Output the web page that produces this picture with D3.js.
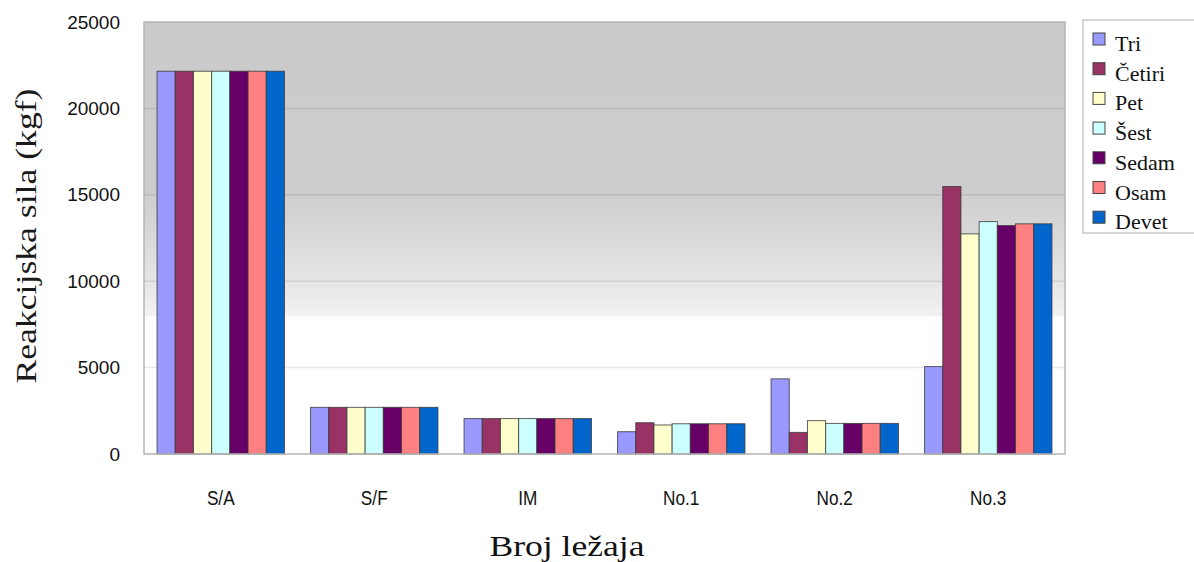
<!DOCTYPE html>
<html>
<head>
<meta charset="utf-8">
<script src="https://cdnjs.cloudflare.com/ajax/libs/d3/7.8.5/d3.min.js"></script>
<style>
  body { margin: 0; background: #fff; }
  svg { display: block; }
</style>
</head>
<body>
<svg id="chart" width="1194" height="562"></svg>
<script>
// Data
var categories = ["S/A", "S/F", "IM", "No.1", "No.2", "No.3"];
var seriesNames = ["Tri", "Četiri", "Pet", "Šest", "Sedam", "Osam", "Devet"];
var seriesColors = ["#9999ff", "#993366", "#ffffcc", "#ccffff", "#660066", "#ff8080", "#0066cc"];

// values[series][category]
var tri    = [22150, 2700, 2050, 1290, 4350, 5060];
var cetiri = [22150, 2700, 2050, 1810, 1250, 15480];
var pet    = [22150, 2700, 2050, 1680, 1930, 12740];
var sest   = [22150, 2700, 2050, 1750, 1770, 13450];
var sedam  = [22150, 2700, 2050, 1750, 1770, 13220];
var osam   = [22150, 2700, 2050, 1750, 1770, 13320];
var devet  = [22150, 2700, 2050, 1750, 1770, 13320];
var values = [tri, cetiri, pet, sest, sedam, osam, devet];

var yTicks = [0, 5000, 10000, 15000, 20000, 25000];

// Layout
var margin = {left: 144, top: 22};
var w = 921;
var h = 432;

var svg = d3.select("#chart");

// background gradient of the plot area
var defs = svg.append("defs");
var grad = defs.append("linearGradient")
    .attr("id", "bg")
    .attr("x1", 0).attr("y1", 0).attr("x2", 0).attr("y2", 1);
[[0, "#cacaca"], [0.39, "#cdcdcd"], [0.5, "#d9d9d9"], [0.6, "#e6e6e6"],
 [0.68, "#f3f1f3"], [0.683, "#ffffff"], [1, "#ffffff"]].forEach(function (s) {
    grad.append("stop").attr("offset", s[0]).attr("stop-color", s[1]);
});

var g = svg.append("g").attr("transform", "translate(" + margin.left + "," + margin.top + ")");

var x0 = d3.scaleBand()
    .domain(categories)
    .range([0, w])
    .paddingInner(0.17)
    .paddingOuter(0.085);

var x1 = d3.scaleBand()
    .domain(d3.range(seriesNames.length))
    .range([0, x0.bandwidth()]);

var y = d3.scaleLinear()
    .domain([0, 25000])
    .range([h, 0]);

// plot background
g.append("rect")
    .attr("width", w)
    .attr("height", h)
    .attr("fill", "url(#bg)");

// gridlines
g.selectAll(".grid")
    .data(yTicks.slice(1, -1))
    .enter()
    .append("line")
    .attr("x1", 0)
    .attr("x2", w)
    .attr("y1", function (d) { return y(d); })
    .attr("y2", function (d) { return y(d); })
    .attr("stroke", "#000")
    .attr("stroke-opacity", 0.09)
    .attr("stroke-width", 1.5);

// bars
var groups = g.selectAll(".cat")
    .data(categories)
    .enter()
    .append("g")
    .attr("transform", function (d) { return "translate(" + x0(d) + ",0)"; });

groups.selectAll("rect")
    .data(function (d, ci) {
        return values.map(function (s, si) { return {si: si, v: s[ci]}; });
    })
    .enter()
    .append("rect")
    .attr("x", function (d) { return x1(d.si); })
    .attr("y", function (d) { return y(d.v); })
    .attr("width", x1.bandwidth())
    .attr("height", function (d) { return h - y(d.v); })
    .attr("fill", function (d) { return seriesColors[d.si]; })
    .attr("stroke", "#3a3a3a")
    .attr("stroke-opacity", 0.8)
    .attr("stroke-width", 1);

// plot frame
g.append("rect")
    .attr("width", w)
    .attr("height", h)
    .attr("fill", "none")
    .attr("stroke", "#b5b5b5")
    .attr("stroke-width", 1.5);

// y axis labels
var yAxis = d3.axisLeft(y)
    .tickValues(yTicks)
    .tickSize(0)
    .tickPadding(24)
    .tickFormat(d3.format("d"));

var ya = g.append("g").call(yAxis);
ya.select(".domain").remove();
ya.selectAll("text")
    .attr("font-family", "Liberation Sans, Arial, sans-serif")
    .attr("font-size", 19)
    .attr("fill", "#111");

// x axis labels (tall, narrow look of the original)
var xAxis = d3.axisBottom(x0).tickSize(0).tickPadding(0);
var xa = g.append("g").attr("transform", "translate(0," + h + ")").call(xAxis);
xa.select(".domain").remove();
xa.selectAll("text")
    .attr("font-family", "Liberation Sans, Arial, sans-serif")
    .attr("font-size", 21)
    .attr("dy", null)
    .attr("y", 51)
    .attr("transform", "scale(0.82,1)")
    .attr("fill", "#111");

// axis titles
svg.append("text")
    .attr("transform", "translate(36,236) rotate(-90)")
    .attr("text-anchor", "middle")
    .attr("font-family", "Liberation Serif, Times New Roman, serif")
    .attr("font-size", 29)
    .attr("textLength", 295)
    .attr("lengthAdjust", "spacingAndGlyphs")
    .attr("fill", "#1a1a1a")
    .text("Reakcijska sila (kgf)");

svg.append("text")
    .attr("x", 567)
    .attr("y", 556)
    .attr("text-anchor", "middle")
    .attr("font-family", "Liberation Serif, Times New Roman, serif")
    .attr("font-size", 30)
    .attr("textLength", 155)
    .attr("lengthAdjust", "spacingAndGlyphs")
    .attr("fill", "#111")
    .text("Broj ležaja");

// legend
var legend = svg.append("g").attr("transform", "translate(1083,20)");
legend.append("rect")
    .attr("width", 130)
    .attr("height", 213)
    .attr("fill", "#fff")
    .attr("stroke", "#c8c8c8")
    .attr("stroke-width", 1.5);

var items = legend.selectAll(".item")
    .data(seriesNames)
    .enter()
    .append("g")
    .attr("transform", function (d, i) { return "translate(10," + (19 + i * 29.7) + ")"; });

items.append("rect")
    .attr("x", 0)
    .attr("y", -6)
    .attr("width", 12)
    .attr("height", 12)
    .attr("fill", function (d, i) { return seriesColors[i]; })
    .attr("stroke", "#444")
    .attr("stroke-width", 1);

items.append("text")
    .attr("x", 22)
    .attr("y", 12)
    .attr("font-family", "Liberation Serif, Times New Roman, serif")
    .attr("font-size", 22)
    .attr("fill", "#111")
    .text(function (d) { return d; });
</script>
</body>
</html>
